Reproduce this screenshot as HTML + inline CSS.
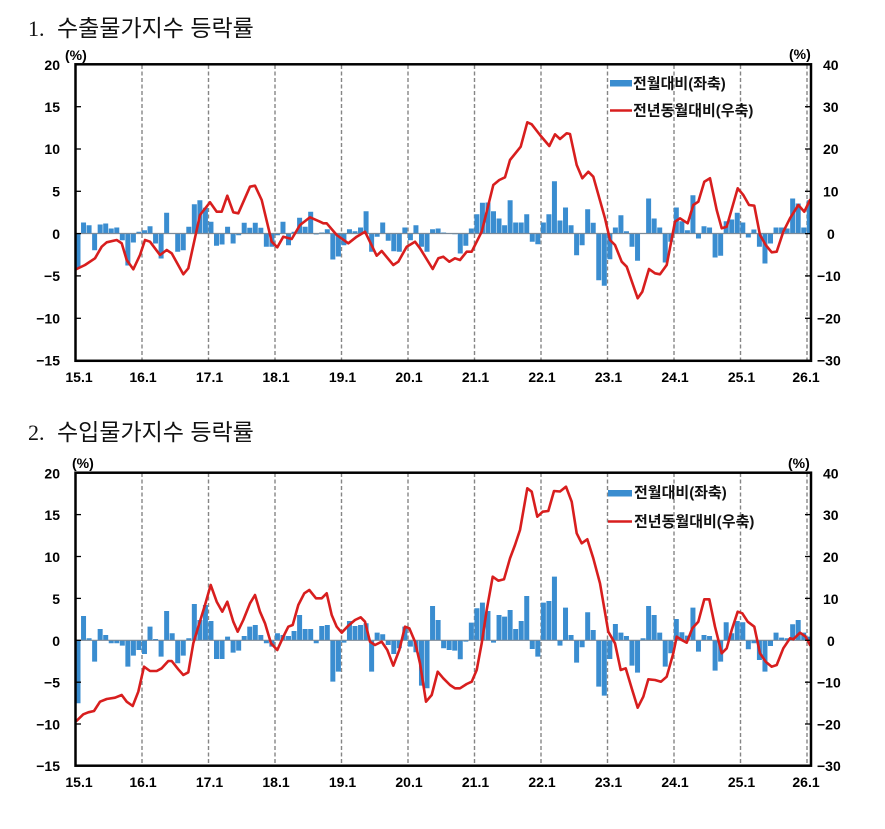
<!DOCTYPE html>
<html><head><meta charset="utf-8"><style>
html,body{margin:0;padding:0;background:#fff;}
svg{display:block;}
.t{font-family:"Liberation Sans","Noto Sans CJK KR",sans-serif;font-weight:bold;font-size:14px;fill:#000;}
.ti{font-family:"Liberation Serif","Noto Sans CJK KR",serif;font-size:22px;fill:#111;}
.tk{font-family:"Liberation Sans","Noto Sans CJK KR",sans-serif;font-size:23px;fill:#111;}
.lg{font-family:"Liberation Sans","Noto Sans CJK KR",sans-serif;font-weight:bold;font-size:15px;fill:#111;}
</style></head><body>
<svg width="885" height="829" viewBox="0 0 885 829" xmlns="http://www.w3.org/2000/svg">
<rect width="885" height="829" fill="#fff"/>

<!-- ===== CHART 1 ===== -->
<text class="ti" x="28" y="36">1.</text>
<text class="tk" x="57" y="36">수출물가지수 등락률</text>
<text class="t" x="65" y="55" dominant-baseline="central" font-size="13">(%)</text>
<text class="t" x="789" y="54" dominant-baseline="central" font-size="13">(%)</text>

<g stroke="#858585" stroke-width="1.4" stroke-dasharray="4 2.5">
<line x1="142" y1="65" x2="142" y2="360"/><line x1="208.5" y1="65" x2="208.5" y2="360"/>
<line x1="275" y1="65" x2="275" y2="360"/><line x1="341.5" y1="65" x2="341.5" y2="360"/>
<line x1="408" y1="65" x2="408" y2="360"/><line x1="474.5" y1="65" x2="474.5" y2="360"/>
<line x1="541" y1="65" x2="541" y2="360"/><line x1="607.5" y1="65" x2="607.5" y2="360"/>
<line x1="674" y1="65" x2="674" y2="360"/><line x1="740.5" y1="65" x2="740.5" y2="360"/>
<line x1="807" y1="65" x2="807" y2="360"/>
</g>

<path fill="#3a8dd0" d="M75.5 233.5 v35h5v-35m.54 0 v-11h5v11m.54 0 v-8.3h5v8.3m.54 0 v16.7h5v-16.7m.54 0 v-9h5v9m.54 0 v-10h5v10m.54 0 v-5h5v5m.54 0 v-6h5v6m.54 0 v6.7h5v-6.7m.54 0 v32h5v-32m.54 0 v9h5v-9m.54 0 v-1.7h5v1.7m.54 0 v-3.3h5v3.3m.54 0 v-7.3h5v7.3m.54 0 v10h5v-10m.54 0 v25h5v-25m.54 0 v-20.7h5v20.7m.54 0 v-.5h5v.5m.54 0 v18.3h5v-18.3m.54 0 v16.7h5v-16.7m.54 0 v-6.7h5v6.7m.54 0 v-29.3h5v29.3m.54 0 v-33.3h5v33.3m.54 0 v-25.7h5v25.7m.54 0 v-11.7h5v11.7m.54 0 v12.3h5v-12.3m.54 0 v11h5v-11m.54 0 v-6.7h5v6.7m.54 0 v10h5v-10m.54 0 v1.7h5v-1.7m.54 0 v-10.7h5v10.7m.54 0 v-5.7h5v5.7m.54 0 v-10.7h5v10.7m.54 0 v-5.7h5v5.7m.54 0 v13.3h5v-13.3m.54 0 v13.3h5v-13.3m.54 0 v1.7h5v-1.7m.54 0 v-11.7h5v11.7m.54 0 v11.7h5v-11.7m.54 0 v-1.7h5v1.7m.54 0 v-15.7h5v15.7m.54 0 v-6.7h5v6.7m.54 0 v-21.7h5v21.7m.54 0 v1h5v-1m.54 0 v-1h5v1m.54 0 v-4.3h5v4.3m.54 0 v26h5v-26m.54 0 v23h5v-23m.54 0 v11.7h5v-11.7m.54 0 v-4.3h5v4.3m.54 0 v-2.3h5v2.3m.54 0 v-6h5v6m.54 0 v-22.3h5v22.3m.54 0 v18.3h5v-18.3m.54 0 v3.3h5v-3.3m.54 0 v-11h5v11m.54 0 v7.3h5v-7.3m.54 0 v17.7h5v-17.7m.54 0 v18.3h5v-18.3m.54 0 v-6h5v6m.54 0 v6.7h5v-6.7m.54 0 v-8.3h5v8.3m.54 0 v13.3h5v-13.3m.54 0 v18.3h5v-18.3m.54 0 v-4.3h5v4.3m.54 0 v-5h5v5m.54 0 v-1h5v1m.54 0 v-.5h5v.5m.54 0 v.7h5v-.7m.54 0 v20h5v-20m.54 0 v12.3h5v-12.3m.54 0 v-5h5v5m.54 0 v-19.3h5v19.3m.54 0 v-30.7h5v30.7m.54 0 v-31h5v31m.54 0 v-22.3h5v22.3m.54 0 v-15h5v15m.54 0 v-8.3h5v8.3m.54 0 v-33.3h5v33.3m.54 0 v-11h5v11m.54 0 v-11h5v11m.54 0 v-19.3h5v19.3m.54 0 v8.3h5v-8.3m.54 0 v10.7h5v-10.7m.54 0 v-11h5v11m.54 0 v-19.3h5v19.3m.54 0 v-52.3h5v52.3m.54 0 v-13h5v13m.54 0 v-26h5v26m.54 0 v-8.3h5v8.3m.54 0 v21.7h5v-21.7m.54 0 v11.7h5v-11.7m.54 0 v-24.3h5v24.3m.54 0 v-10.7h5v10.7m.54 0 v46.7h5v-46.7m.54 0 v52.3h5v-52.3m.54 0 v25.7h5v-25.7m.54 0 v-6h5v6m.54 0 v-18.3h5v18.3m.54 0 v-2.3h5v2.3m.54 0 v13.3h5v-13.3m.54 0 v27.3h5v-27.3m.54 0 v-.5h5v.5m.54 0 v-35h5v35m.54 0 v-15h5v15m.54 0 v-6h5v6m.54 0 v29h5v-29m.54 0 v8.3h5v-8.3m.54 0 v-26h5v26m.54 0 v-12.3h5v12.3m.54 0 v-3.3h5v3.3m.54 0 v-38.3h5v38.3m.54 0 v5h5v-5m.54 0 v-7.3h5v7.3m.54 0 v-6h5v6m.54 0 v24h5v-24m.54 0 v22.3h5v-22.3m.54 0 v-12.3h5v12.3m.54 0 v-14h5v14m.54 0 v-20.7h5v20.7m.54 0 v-11h5v11m.54 0 v4h5v-4m.54 0 v-4h5v4m.54 0 v13.3h5v-13.3m.54 0 v30h5v-30m.54 0 v10h5v-10m.54 0 v-6h5v6m.54 0 v-6h5v6m.54 0 v-5h5v5m.54 0 v-35h5v35m.54 0 v-30h5v30m.54 0 v-6h5v6m.54 0 v-33.3h5v33.3"/>

<line x1="76" y1="233.5" x2="810" y2="233.5" stroke="#7b8a98" stroke-width="1.2"/>

<polyline fill="none" stroke="#d81e1e" stroke-width="2.6" stroke-linejoin="round" stroke-linecap="round" points="76.7,269 85,265 95,258.3 101.7,246.7 106.7,242.3 116.7,240 121.7,243.3 126.7,260 133.3,269.3 140,255 145,240 150,241.7 160,255 166.7,250 171.7,253.3 183.3,274.3 188.3,268.3 200,215 210,202.3 216.7,211.7 221.7,211.7 227.3,195.7 233.3,212.3 238.3,213.3 250,186.7 255,185.7 261.7,200 271.7,241.7 277.3,247.3 283.3,236.7 291.7,239 300,225 310,217.3 320,221.7 323.3,223.3 326.7,223.3 336.7,235 348.3,243.3 356.7,236.7 365,231.7 376.7,255.7 381.7,251 393.3,265 398.3,261.7 406.7,246.7 415,241.7 420,248.3 432.7,269 438.3,258.3 443.3,256.7 449.3,261.7 455,258.3 460,260 466.7,251.7 471.7,251.7 481.7,231.7 486.7,211.7 493.3,185 499.3,180 505,177.3 510,160 520.7,146.7 527.3,122.3 531.7,124.3 540,135 549.3,146 555,134.3 560,139 566.7,133.3 570,134 576.7,165 582.3,178.3 588.3,171.7 593.3,176.7 605,218.3 610,240 615,245 621.7,261.7 626.7,266.7 637.7,298.3 642.3,291.7 649,269 655,273.3 660,274.3 666.7,265 675,221.7 680,218.3 687.7,223.3 693.3,205 698.3,201.7 704.3,181.7 710,178.3 716.7,210 721.7,228.3 726.7,226.7 737.7,188.3 743.3,195 749,205 754.3,205.7 760,235 765.7,245 771.7,252.3 776.7,251.7 783.3,231.7 790,218.3 798.3,205 804.3,211.7 810,200"/>

<rect x="75.5" y="64.3" width="735.5" height="296.5" fill="none" stroke="#000" stroke-width="2.5"/>
<g stroke="#000" stroke-width="1.3">
<line x1="76" y1="106.7" x2="81" y2="106.7"/><line x1="76" y1="149" x2="81" y2="149"/><line x1="76" y1="191.3" x2="81" y2="191.3"/><line x1="76" y1="233.6" x2="81" y2="233.6"/><line x1="76" y1="275.9" x2="81" y2="275.9"/><line x1="76" y1="318.3" x2="81" y2="318.3"/>
<line x1="805" y1="106.7" x2="811" y2="106.7"/><line x1="805" y1="149" x2="811" y2="149"/><line x1="805" y1="191.3" x2="811" y2="191.3"/><line x1="805" y1="233.6" x2="811" y2="233.6"/><line x1="805" y1="275.9" x2="811" y2="275.9"/><line x1="805" y1="318.3" x2="811" y2="318.3"/>
</g>
<text class="t" x="60" y="65" dominant-baseline="central" text-anchor="end">20</text>
<text class="t" x="60" y="107" dominant-baseline="central" text-anchor="end">15</text>
<text class="t" x="60" y="149" dominant-baseline="central" text-anchor="end">10</text>
<text class="t" x="60" y="191.5" dominant-baseline="central" text-anchor="end">5</text>
<text class="t" x="60" y="234" dominant-baseline="central" text-anchor="end">0</text>
<text class="t" x="60" y="276" dominant-baseline="central" text-anchor="end">−5</text>
<text class="t" x="60" y="318.5" dominant-baseline="central" text-anchor="end">−10</text>
<text class="t" x="60" y="360.5" dominant-baseline="central" text-anchor="end">−15</text>

<text class="t" x="823" y="65" dominant-baseline="central">40</text>
<text class="t" x="823" y="107" dominant-baseline="central">30</text>
<text class="t" x="823" y="149" dominant-baseline="central">20</text>
<text class="t" x="823" y="191.5" dominant-baseline="central">10</text>
<text class="t" x="827" y="234" dominant-baseline="central">0</text>
<text class="t" x="817" y="276" dominant-baseline="central">−10</text>
<text class="t" x="817" y="318.5" dominant-baseline="central">−20</text>
<text class="t" x="817" y="360.5" dominant-baseline="central">−30</text>

<text class="t" x="79" y="382" text-anchor="middle">15.1</text>
<text class="t" x="143" y="382" text-anchor="middle">16.1</text>
<text class="t" x="209.5" y="382" text-anchor="middle">17.1</text>
<text class="t" x="276" y="382" text-anchor="middle">18.1</text>
<text class="t" x="342.5" y="382" text-anchor="middle">19.1</text>
<text class="t" x="409" y="382" text-anchor="middle">20.1</text>
<text class="t" x="475.5" y="382" text-anchor="middle">21.1</text>
<text class="t" x="542" y="382" text-anchor="middle">22.1</text>
<text class="t" x="608.5" y="382" text-anchor="middle">23.1</text>
<text class="t" x="675" y="382" text-anchor="middle">24.1</text>
<text class="t" x="741.5" y="382" text-anchor="middle">25.1</text>
<text class="t" x="806" y="382" text-anchor="middle">26.1</text>

<rect x="610" y="80" width="22" height="6.5" fill="#3a8dd0"/>
<text class="lg" x="633" y="84" dominant-baseline="central">전월대비(좌축)</text>
<line x1="610" y1="110.5" x2="632" y2="110.5" stroke="#d81e1e" stroke-width="2.6"/>
<text class="lg" x="633" y="111" dominant-baseline="central">전년동월대비(우축)</text>

<!-- ===== CHART 2 ===== -->
<text class="ti" x="28" y="440">2.</text>
<text class="tk" x="57" y="440">수입물가지수 등락률</text>
<text class="t" x="72" y="463" dominant-baseline="central" font-size="13">(%)</text>
<text class="t" x="788" y="463" dominant-baseline="central" font-size="13">(%)</text>

<g stroke="#858585" stroke-width="1.4" stroke-dasharray="4 2.5">
<line x1="142" y1="473" x2="142" y2="765"/><line x1="208.5" y1="473" x2="208.5" y2="765"/>
<line x1="275" y1="473" x2="275" y2="765"/><line x1="341.5" y1="473" x2="341.5" y2="765"/>
<line x1="408" y1="473" x2="408" y2="765"/><line x1="474.5" y1="473" x2="474.5" y2="765"/>
<line x1="541" y1="473" x2="541" y2="765"/><line x1="607.5" y1="473" x2="607.5" y2="765"/>
<line x1="674" y1="473" x2="674" y2="765"/><line x1="740.5" y1="473" x2="740.5" y2="765"/>
<line x1="807" y1="473" x2="807" y2="765"/>
</g>

<path fill="#3a8dd0" d="M75.5 640.3 v63h5v-63m.54 0 v-24.3h5v24.3m.54 0 v-2h5v2m.54 0 v21.3h5v-21.3m.54 0 v-11.3h5v11.3m.54 0 v-5.3h5v5.3m.54 0 v3h5v-3m.54 0 v3h5v-3m.54 0 v5.3h5v-5.3m.54 0 v26.3h5v-26.3m.54 0 v15.3h5v-15.3m.54 0 v9.7h5v-9.7m.54 0 v13.7h5v-13.7m.54 0 v-13.7h5v13.7m.54 0 v-1.3h5v1.3m.54 0 v16.3h5v-16.3m.54 0 v-29.3h5v29.3m.54 0 v-7h5v7m.54 0 v23h5v-23m.54 0 v15.3h5v-15.3m.54 0 v-2h5v2m.54 0 v-36.3h5v36.3m.54 0 v-20.3h5v20.3m.54 0 v-35.3h5v35.3m.54 0 v-19.3h5v19.3m.54 0 v18.7h5v-18.7m.54 0 v18.7h5v-18.7m.54 0 v-3.7h5v3.7m.54 0 v12.3h5v-12.3m.54 0 v10.3h5v-10.3m.54 0 v-4.3h5v4.3m.54 0 v-13.7h5v13.7m.54 0 v-15.3h5v15.3m.54 0 v-5.3h5v5.3m.54 0 v3h5v-3m.54 0 v6.3h5v-6.3m.54 0 v-7h5v7m.54 0 v-5.3h5v5.3m.54 0 v-4.3h5v4.3m.54 0 v-9.3h5v9.3m.54 0 v-25.3h5v25.3m.54 0 v-11.3h5v11.3m.54 0 v-11.3h5v11.3m.54 0 v3h5v-3m.54 0 v-14.3h5v14.3m.54 0 v-15.3h5v15.3m.54 0 v41.3h5v-41.3m.54 0 v31.3h5v-31.3m.54 0 v2.3h5v-2.3m.54 0 v-19.3h5v19.3m.54 0 v-14.3h5v14.3m.54 0 v-15.3h5v15.3m.54 0 v-17h5v17m.54 0 v31.3h5v-31.3m.54 0 v-7.7h5v7.7m.54 0 v-6h5v6m.54 0 v4.7h5v-4.7m.54 0 v13.7h5v-13.7m.54 0 v8h5v-8m.54 0 v-13.7h5v13.7m.54 0 v6.3h5v-6.3m.54 0 v12h5v-12m.54 0 v45.3h5v-45.3m.54 0 v48h5v-48m.54 0 v-34.3h5v34.3m.54 0 v-20.3h5v20.3m.54 0 v8h5v-8m.54 0 v9.7h5v-9.7m.54 0 v10.3h5v-10.3m.54 0 v19h5v-19m.54 0 v1.3h5v-1.3m.54 0 v-17.7h5v17.7m.54 0 v-32h5v32m.54 0 v-37.7h5v37.7m.54 0 v-29.3h5v29.3m.54 0 v2.3h5v-2.3m.54 0 v-25.3h5v25.3m.54 0 v-23.7h5v23.7m.54 0 v-30.3h5v30.3m.54 0 v-11.3h5v11.3m.54 0 v-19.3h5v19.3m.54 0 v-44.3h5v44.3m.54 0 v8.7h5v-8.7m.54 0 v16.3h5v-16.3m.54 0 v-37.7h5v37.7m.54 0 v-39.3h5v39.3m.54 0 v-63.7h5v63.7m.54 0 v5.3h5v-5.3m.54 0 v-32.7h5v32.7m.54 0 v-5.3h5v5.3m.54 0 v22.3h5v-22.3m.54 0 v7h5v-7m.54 0 v-28h5v28m.54 0 v-10.3h5v10.3m.54 0 v46.3h5v-46.3m.54 0 v55.3h5v-55.3m.54 0 v18.7h5v-18.7m.54 0 v-16.3h5v16.3m.54 0 v-7.7h5v7.7m.54 0 v-4.3h5v4.3m.54 0 v25.3h5v-25.3m.54 0 v32.3h5v-32.3m.54 0 v-2h5v2m.54 0 v-34.3h5v34.3m.54 0 v-25.3h5v25.3m.54 0 v-7.7h5v7.7m.54 0 v26.3h5v-26.3m.54 0 v13h5v-13m.54 0 v-21.3h5v21.3m.54 0 v-8h5v8m.54 0 v-4.7h5v4.7m.54 0 v-32.7h5v32.7m.54 0 v11.3h5v-11.3m.54 0 v-5.3h5v5.3m.54 0 v-4.3h5v4.3m.54 0 v30.3h5v-30.3m.54 0 v21.3h5v-21.3m.54 0 v-18h5v18m.54 0 v-7h5v7m.54 0 v-19.3h5v19.3m.54 0 v-18h5v18m.54 0 v9h5v-9m.54 0 v3h5v-3m.54 0 v19.7h5v-19.7m.54 0 v31.3h5v-31.3m.54 0 v5.7h5v-5.7m.54 0 v-7.7h5v7.7m.54 0 v-2.7h5v2.7m.54 0 v-2h5v2m.54 0 v-16h5v16m.54 0 v-20.3h5v20.3m.54 0 v-7.7h5v7.7m.54 0 v-3.7h5v3.7"/>

<line x1="76" y1="640.3" x2="810" y2="640.3" stroke="#7b8a98" stroke-width="1.2"/>

<polyline fill="none" stroke="#d81e1e" stroke-width="2.6" stroke-linejoin="round" stroke-linecap="round" points="76.7,720.7 83.3,714.3 88.3,712.3 94,711 100,701.7 106.7,699 115,697.7 121.7,695 126.7,701.7 132.7,706 138.3,691.7 144,666.7 150,671 156.7,671 161.7,668.3 168.3,661 171.7,661 178.3,669.3 183.3,675 188.3,672.3 193.3,643.3 198.3,626.7 205,605 210.7,585 216.7,601.7 222.3,611.7 227.3,601.7 233.3,621.7 237.7,631.7 243.3,620 250,603.3 255,595 260,611.7 265,623.3 271,643.3 277.3,650 283.3,636.7 288.3,626.7 292.7,625 298.3,605 304.3,593.3 309.3,590 316,598.3 321.7,598.3 326.7,593.3 331.7,615 336.7,626.7 341.7,632.7 348.3,625.7 355,620 360.7,617.3 365,621.7 370,641.7 375,645 381.7,641.7 387.3,650 393.3,665.7 399.3,650 405,626.7 409.3,628.3 415,641.7 420,663.3 426,701.7 431.7,695 437.7,671.7 443.3,678.3 450,685 455,688.3 460,688.3 466.7,684 471.7,681.7 476.7,670 481.7,643.3 486.7,610 492.7,576.7 498.3,580.7 504,579.3 510,558.3 515,545 520,530 527.3,488.3 531.7,491.7 537.3,516.7 542.7,511.7 548.3,511 554,491 560,491.5 566,486.7 571.7,501.7 576.7,533.3 581.7,543.3 587.3,539.3 593.3,558.3 600,583.3 608.3,631.7 615,643.3 620.7,670 625.7,668.3 631.7,688.3 637.7,707.7 643.3,696.7 648.3,679.3 655,680 661,681.7 666.7,676.7 673.3,653.3 676.7,636.7 681.7,640 686.7,642.7 692.3,628.3 698.3,621.7 704.3,599.3 709.3,599.3 715,626.7 721.7,653.3 726.7,648.3 731.7,630 737.7,611.7 742.3,613.3 747.7,621.7 754.3,626.7 760,653.3 765.7,661.7 771.7,666.7 776.7,665 783.3,648.3 790,638.3 793.3,639.3 800,632.7 805.7,636.7 810,645"/>

<rect x="75.5" y="472.7" width="735.5" height="293" fill="none" stroke="#000" stroke-width="2.5"/>
<g stroke="#000" stroke-width="1.3">
<line x1="76" y1="514.6" x2="81" y2="514.6"/><line x1="76" y1="556.5" x2="81" y2="556.5"/><line x1="76" y1="598.4" x2="81" y2="598.4"/><line x1="76" y1="640.3" x2="81" y2="640.3"/><line x1="76" y1="682.2" x2="81" y2="682.2"/><line x1="76" y1="724" x2="81" y2="724"/>
<line x1="805" y1="514.6" x2="811" y2="514.6"/><line x1="805" y1="556.5" x2="811" y2="556.5"/><line x1="805" y1="598.4" x2="811" y2="598.4"/><line x1="805" y1="640.3" x2="811" y2="640.3"/><line x1="805" y1="682.2" x2="811" y2="682.2"/><line x1="805" y1="724" x2="811" y2="724"/>
</g>
<text class="t" x="60" y="473.5" dominant-baseline="central" text-anchor="end">20</text>
<text class="t" x="60" y="515" dominant-baseline="central" text-anchor="end">15</text>
<text class="t" x="60" y="557" dominant-baseline="central" text-anchor="end">10</text>
<text class="t" x="60" y="599" dominant-baseline="central" text-anchor="end">5</text>
<text class="t" x="60" y="641" dominant-baseline="central" text-anchor="end">0</text>
<text class="t" x="60" y="682.5" dominant-baseline="central" text-anchor="end">−5</text>
<text class="t" x="60" y="724.5" dominant-baseline="central" text-anchor="end">−10</text>
<text class="t" x="60" y="766" dominant-baseline="central" text-anchor="end">−15</text>

<text class="t" x="823" y="473.5" dominant-baseline="central">40</text>
<text class="t" x="823" y="515" dominant-baseline="central">30</text>
<text class="t" x="823" y="557" dominant-baseline="central">20</text>
<text class="t" x="823" y="599" dominant-baseline="central">10</text>
<text class="t" x="827" y="641" dominant-baseline="central">0</text>
<text class="t" x="817" y="682.5" dominant-baseline="central">−10</text>
<text class="t" x="817" y="724.5" dominant-baseline="central">−20</text>
<text class="t" x="817" y="766" dominant-baseline="central">−30</text>

<text class="t" x="79" y="787" text-anchor="middle">15.1</text>
<text class="t" x="143" y="787" text-anchor="middle">16.1</text>
<text class="t" x="209.5" y="787" text-anchor="middle">17.1</text>
<text class="t" x="276" y="787" text-anchor="middle">18.1</text>
<text class="t" x="342.5" y="787" text-anchor="middle">19.1</text>
<text class="t" x="409" y="787" text-anchor="middle">20.1</text>
<text class="t" x="475.5" y="787" text-anchor="middle">21.1</text>
<text class="t" x="542" y="787" text-anchor="middle">22.1</text>
<text class="t" x="608.5" y="787" text-anchor="middle">23.1</text>
<text class="t" x="675" y="787" text-anchor="middle">24.1</text>
<text class="t" x="741.5" y="787" text-anchor="middle">25.1</text>
<text class="t" x="806" y="787" text-anchor="middle">26.1</text>

<rect x="608" y="490" width="24" height="6.5" fill="#3a8dd0"/>
<text class="lg" x="634" y="493" dominant-baseline="central">전월대비(좌축)</text>
<line x1="608" y1="521.5" x2="632" y2="521.5" stroke="#d81e1e" stroke-width="2.6"/>
<text class="lg" x="634" y="522" dominant-baseline="central">전년동월대비(우축)</text>
</svg>
</body></html>
